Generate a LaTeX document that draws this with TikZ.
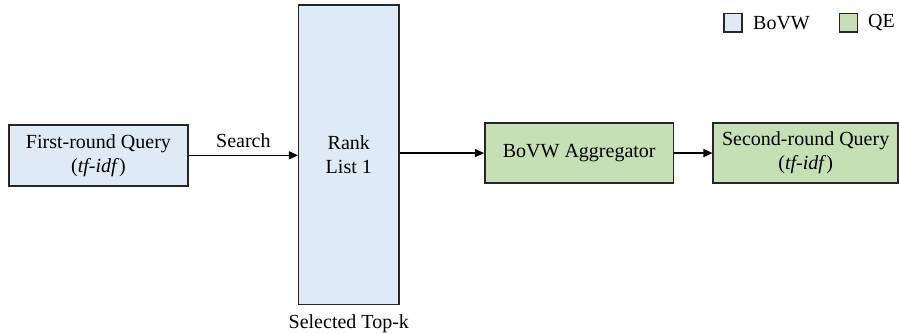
\documentclass[tikz,border=0pt]{standalone}
\usepackage{fontspec}
\setmainfont{Liberation Serif}
\definecolor{bovwblue}{RGB}{222, 235, 247}
\definecolor{qegreen}{RGB}{197, 224, 180}
\definecolor{edgegray}{RGB}{38, 38, 38}
\usetikzlibrary{arrows.meta, positioning}

\begin{document}
\begin{tikzpicture}[
  box/.style={draw=edgegray, line width=0.75pt, align=center, inner sep=2pt},
  bluebox/.style={box, fill=bovwblue},
  greenbox/.style={box, fill=qegreen},
  flow/.style={line width=0.6pt, -{Triangle[length=4.5pt, width=4pt]}},
  keybox/.style={draw=edgegray, line width=0.75pt, minimum size=0.32cm, inner sep=0pt},
  keytext/.style={anchor=west, inner sep=0pt}
]
  \useasboundingbox (0, 0) rectangle (15.80, 5.87);

  % Legend
  \node[keybox, fill=bovwblue] (keyblue) at (12.88, 5.47) {};
  \node[keytext] (keybluetext) at (13.23, 5.47) {BoVW};
  \node[keybox, fill=qegreen] (keygreen) at (14.91, 5.47) {};
  \node[keytext] (keygreentext) at (15.25, 5.47) {QE};

  % LEFT: first-round search
  \node[bluebox, minimum width=3.15cm, minimum height=1.07cm] (query1) at (1.73, 3.14)
    {First-round Query\\(\textit{tf-idf})};
  \node[bluebox, minimum width=1.76cm, minimum height=5.27cm] (rank) at (6.13, 3.15)
    {Rank\\List 1};
  \node[below=1pt of rank] (topk) {Selected Top-k};

  % RIGHT: query expansion
  \node[greenbox, minimum width=3.32cm, minimum height=1.05cm] (agg) at (10.18, 3.18)
    {BoVW Aggregator};
  \node[greenbox, minimum width=3.25cm, minimum height=1.05cm] (query2) at (14.16, 3.18)
    {Second-round Query\\(\textit{tf-idf})};

  % Connectors
  \draw[flow] (query1) -- (query1 -| rank.west) node[midway, above] {Search};
  \draw[flow] (rank.east |- agg) -- (agg);
  \draw[flow] (agg) -- (query2);
\end{tikzpicture}
\end{document}
